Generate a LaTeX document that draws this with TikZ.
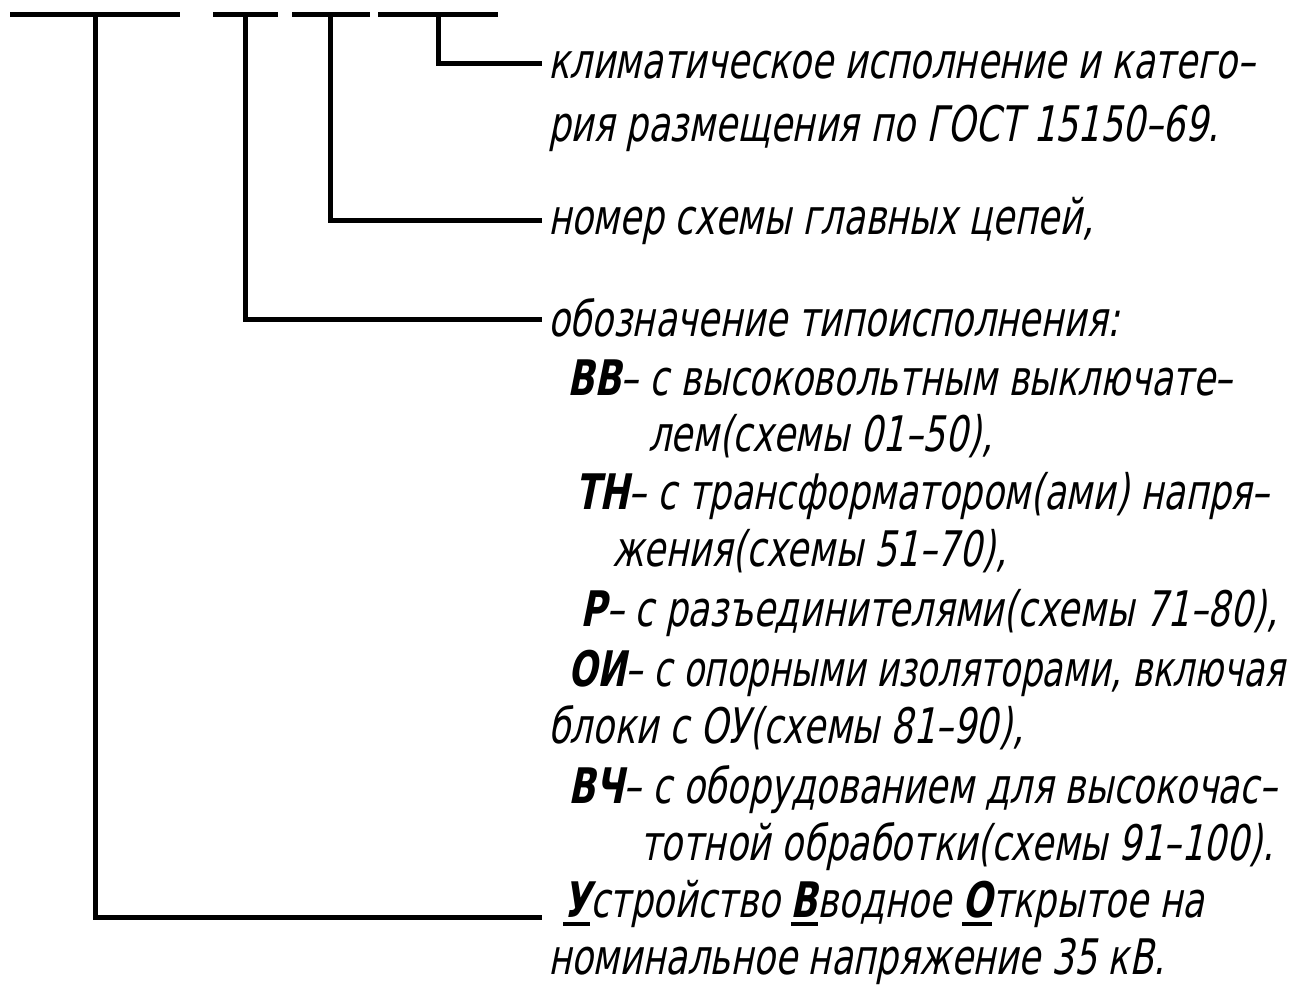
\documentclass[tikz,border=0pt]{standalone}
\usepackage{fontspec}
\usepackage{graphicx}
\setmainfont{DejaVu Sans}[FakeStretch=0.72, FakeSlant=0.2]
\newcommand{\gostul}[1]{\setbox0\hbox{#1}\rlap{\rule[-9pt]{\wd0}{4pt}}\box0}
\begin{document}
\begin{tikzpicture}[x=1pt,y=-1pt,
  txt/.style={anchor=base west, inner sep=0pt, font=\fontsize{49}{58}\selectfont},
  ln/.style={line width=5pt, line cap=butt, line join=miter}]
\useasboundingbox (0,0) rectangle (1300,986);
% top bars
\coordinate (b1l) at (10,14);  \coordinate (b1r) at (180,14);
\coordinate (b2l) at (213,14); \coordinate (b2r) at (278,14);
\coordinate (b3l) at (292,14); \coordinate (b3r) at (370,14);
\coordinate (b4l) at (378,14); \coordinate (b4r) at (498,14);
\coordinate (v1) at (95,14);
\coordinate (v2) at (245,14);
\coordinate (v3) at (330,14);
\coordinate (v4) at (438,14);
\coordinate (e4) at (542,63);
\coordinate (e3) at (542,220);
\coordinate (e2) at (542,319);
\coordinate (e1) at (542,917);
\draw[ln] (b1l) -- (b1r);
\draw[ln] (b2l) -- (b2r);
\draw[ln] (b3l) -- (b3r);
\draw[ln] (b4l) -- (b4r);
\draw[ln] (v4) |- (e4);
\draw[ln] (v3) |- (e3);
\draw[ln] (v2) |- (e2);
\draw[ln] (v1) |- (e1);
% texts
\node[txt] (t1) at (548,78) {климатическое исполнение и катего–};
\node[txt] (t2) at (548,141) {рия размещения по ГОСТ 15150–69.};
\node[txt] (t3) at (548,234) {номер схемы главных цепей,};
\node[txt] (t4) at (548,336) {обозначение типоисполнения:};
\node[txt] (t5) at (567,395) {\textbf{ВВ}– с высоковольтным выключате–};
\node[txt] (t6) at (648,451) {лем(схемы 01–50),};
\node[txt] (t7) at (575,509) {\textbf{ТН}– с трансформатором(ами) напря–};
\node[txt] (t8) at (612,566) {жения(схемы 51–70),};
\node[txt] (t9) at (580,626) {\textbf{Р}– с разъединителями(схемы 71–80),};
\node[txt] (t10) at (568,686) {\scalebox{0.965}[1]{\textbf{ОИ}– с опорными изоляторами, включая}};
\node[txt] (t11) at (548,743) {блоки с ОУ(схемы 81–90),};
\node[txt] (t12) at (568,803) {\textbf{ВЧ}– с оборудованием для высокочас–};
\node[txt] (t13) at (640,860) {тотной обработки(схемы 91–100).};
\node[txt] (t14) at (563,917) {\gostul{\textbf{У}}стройство \gostul{\textbf{В}}водное \gostul{\textbf{О}}ткрытое на};
\node[txt] (t15) at (548,974) {номинальное напряжение 35 кВ.};
\end{tikzpicture}
\end{document}
